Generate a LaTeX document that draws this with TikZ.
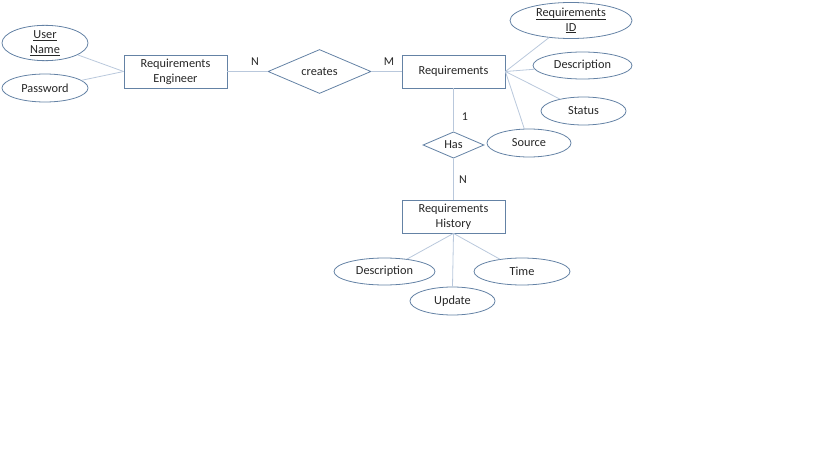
\documentclass[tikz,border=0pt]{standalone}
\usepackage{fontspec}
\setmainfont{Carlito}
\usetikzlibrary{shapes.geometric}
\definecolor{edgeblue}{RGB}{100,130,165}
\definecolor{linkblue}{RGB}{185,200,220}
\definecolor{txt}{RGB}{38,38,38}
\begin{document}
\begin{tikzpicture}[x=1pt,y=-1pt,
  every node/.style={text=txt,font=\fontsize{12.3}{15}\selectfont,align=center,inner sep=0pt},
  entity/.style={draw=edgeblue,line width=0.8pt,rectangle,minimum width=103pt,minimum height=33pt},
  attr/.style={draw=edgeblue,line width=0.8pt,ellipse,minimum height=28pt},
  rel/.style={draw=edgeblue,line width=0.8pt,diamond},
  link/.style={draw=linkblue,line width=0.8pt},
  card/.style={font=\fontsize{12}{14}\selectfont}]
\useasboundingbox (0,0) rectangle (819,460);
% entities
\node[entity] (re) at (175.5,71.5) {Requirements\\Engineer};
\node[entity] (req) at (453.5,71.5) {Requirements};
\node[entity] (rh) at (453.5,216.5) {Requirements\\History};
% relationships
\node[rel,minimum width=103pt,minimum height=37pt] (cr) at (319.5,71.5) {creates};
\node[rel,minimum width=61pt,minimum height=26pt] (has) at (453.5,145) {Has};
% attributes
\node[attr,minimum width=86pt] (un) at (45,43) {\underline{User}\\\underline{Name}};
\node[attr,minimum width=86pt] (pw) at (45,88) {Password};
\node[attr,minimum width=122pt,minimum height=29pt] (rid) at (571,20.5) {\underline{Requirements}\\\underline{ID}};
\node[attr,minimum width=99pt,minimum height=27pt] (rdesc) at (582.5,65.5) {Description};
\node[attr,minimum width=85pt] (st) at (583.5,111) {Status};
\node[attr,minimum width=84pt] (src) at (529,143) {Source};
\node[attr,minimum width=101pt,minimum height=27pt] (hdesc) at (384.5,271.5) {Description};
\node[attr,minimum width=96pt,minimum height=27pt] (tm) at (522,271.5) {Time};
\node[attr,minimum width=85pt] (up) at (452.5,301) {Update};
% links
\draw[link] (re.west) -- (un);
\draw[link] (re.west) -- (pw);
\draw[link] (re.east) -- (cr.west);
\draw[link] (cr.east) -- (req.west);
\draw[link] (req.east) -- (rid);
\draw[link] (req.east) -- (rdesc);
\draw[link] (req.east) -- (st);
\draw[link] (req.east) -- (src);
\draw[link] (req.south) -- (has.north);
\draw[link] (has.south) -- (rh.north);
\draw[link] (rh.south) -- (hdesc);
\draw[link] (rh.south) -- (up.north);
\draw[link] (rh.south) -- (tm);
% cardinalities
\node[card] (cn) at (255,62) {N};
\node[card] (cm) at (389,62) {M};
\node[card] (c1) at (465,117) {1};
\node[card] (c2) at (463,179.5) {N};
\end{tikzpicture}
\end{document}
